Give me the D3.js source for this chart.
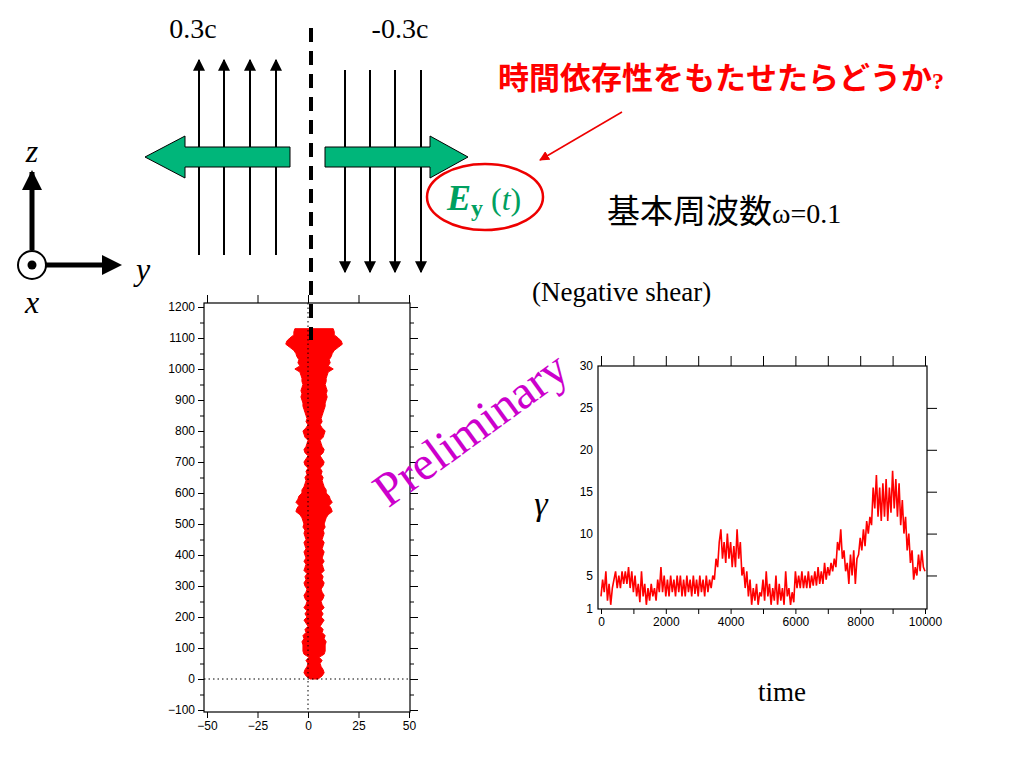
<!DOCTYPE html><html><head><meta charset="utf-8">
<script src="https://cdn.jsdelivr.net/npm/d3@7"></script>
<style>body{margin:0;background:#fff}svg{display:block}</style></head><body>
<svg id="s" width="1024" height="768"></svg>
<script>
// ---- data ----
const profileHeights = d3.range(0, 1140, 10);
const profileHalfWidth = [2,4,5,4.5,3.5,3,4,2.5,5,5.5,5.5,
 5.5,6,5,5.5,4,4.5,3,4,5,3.5,
 4.5,3.5,5,4,3.5,4.5,5,4,3.5,4.5,
 5,4,4.5,3.5,5,4.5,4,5,4,4.5,
 5,4,4.5,5,4,4.5,5,4.5,5.5,5,
 5.5,6,7,9,8.5,7.5,9,8,7.5,6,
 6,5,4.5,4,4.5,3.5,4,3,4.5,5,
 4,3,4.5,5,4,3.5,3,4.5,5,5.5,
 4,3,4,3.5,4,4.5,5,5.5,5.5,6,
 6.5,6,6.5,6,5.5,6,6,6.5,7,9.5,
 7,8,7.5,8.5,9,10,12,14,13.5,12,10,10,9.5];
const profileCenter = 3;
const gammaTime = d3.range(0, 10001, 50);
const gammaValues = [2.5,4.5,3,5.5,2,4,1.5,3.5,4.5,5.5,3.5,5,3.5,5.5,4,5.5,4,6,3.5,5.5,3,
 5,2.5,4,1.8,5.5,2.5,4,1.5,3.5,2,4,2.5,3.5,2,4.5,3,6,3,5,2.5,
 4.5,2.5,5,3,4.5,2.5,5,3,5,2.5,4.5,2.5,5,3,4.5,2.5,5,2.8,4.5,2.5,
 5,3,4.5,2.5,5,3,4.5,3.5,5,4.5,7,6,9,10.5,7,9,6.5,10,7,9,
 6,8.5,6,10.5,7,9,5,6,3.5,5.5,2.5,4.5,1.5,3.5,2,4,1.5,3,2.5,4.5,
 2,5.5,2.5,4,1.5,3.5,2,5,1.5,4,2,3.5,1.5,5.5,2.5,3.5,1.5,3,1.8,5.5,
 3.5,5,3.5,5.5,3.5,5,3.5,5.5,3.5,5,3.8,5.5,3.8,6,4,5.5,4,6.5,4.5,6,
 5,6.5,5.5,7,6,9,8,10.5,7,8,5.5,6.5,4,7.5,5,8,4,7,7.5,9.5,
 8,10.5,8.5,11.5,10,12,11,15.5,13,17,12,15.5,11.5,16,12,16.5,11.5,15.5,12.5,17.5,
 13,16.5,12,16,11,14,10,12,8,10,6.5,8,4.5,6,5,7.5,5.5,8,6,5.5];
const leftXTicks = [-50,-25,0,25,50];
const leftYTicks = d3.range(-100, 1201, 100);
const rightXTicks = [0,2000,4000,6000,8000,10000];
const rightYTicks = [1,5,10,15,20,25,30];

const svg = d3.select("#s");
const serif = "'Liberation Serif','DejaVu Serif',serif";
const sans = "'Liberation Sans',Arial,sans-serif";
const cjk = "'Noto Sans CJK JP',sans-serif";
const fmt = d => d<0 ? "\u2212"+(-d) : String(d);

// ---- left plot ----
const L = svg.append("g");
const lx = d3.scaleLinear().domain([-50,50]).range([207,409]);
const ly = d3.scaleLinear().domain([-100,1200]).range([710,307]);
L.append("rect").attr("x",204).attr("y",303).attr("width",206).attr("height",409).attr("fill","none").attr("stroke","#000").attr("stroke-width",1.2);
const area = d3.area().y(d=>ly(d.h)).x0(d=>lx(profileCenter-d.w)).x1(d=>lx(profileCenter+d.w)).curve(d3.curveLinear);
const prof = profileHeights.map((h,i)=>({h,w:profileHalfWidth[i]}));
L.append("path").datum(prof).attr("d",area).attr("fill","#f00").attr("stroke","#f00").attr("stroke-width",1);
L.append("line").attr("x1",204).attr("x2",410).attr("y1",ly(0)).attr("y2",ly(0)).attr("stroke","#000").attr("stroke-dasharray","1.5,3");
L.append("line").attr("x1",lx(0)).attr("x2",lx(0)).attr("y1",303).attr("y2",712).attr("stroke","#000").attr("stroke-dasharray","1.5,3");
L.append("g").attr("transform","translate(204,0)").call(d3.axisLeft(ly).tickValues(leftYTicks).tickSize(6).tickPadding(3).tickFormat(fmt)).call(g=>g.select(".domain").remove()).selectAll("text").attr("font-family",sans).attr("font-size",12);
L.append("g").attr("transform","translate(204,0)").call(d3.axisLeft(ly).tickValues(d3.range(-50,1200,100)).tickSize(4).tickFormat("")).select(".domain").remove();
L.append("g").attr("transform","translate(410,0)").call(d3.axisRight(ly).tickValues(leftYTicks).tickSize(8).tickFormat("")).select(".domain").remove();
L.append("g").attr("transform","translate(410,0)").call(d3.axisRight(ly).tickValues(d3.range(-50,1200,100)).tickSize(4).tickFormat("")).select(".domain").remove();
L.append("g").attr("transform","translate(0,712)").call(d3.axisBottom(lx).tickValues(leftXTicks).tickSize(6).tickFormat(fmt)).call(g=>g.select(".domain").remove()).selectAll("text").attr("font-family",sans).attr("font-size",12);
L.append("g").attr("transform","translate(0,303)").call(d3.axisTop(lx).tickValues(leftXTicks).tickSize(8).tickFormat("")).select(".domain").remove();

// ---- right plot ----
const R = svg.append("g");
const rx = d3.scaleLinear().domain([0,10000]).range([601,925]);
const ry = d3.scaleLinear().domain([1,30]).range([609,366]);
R.append("rect").attr("x",598).attr("y",366).attr("width",329).attr("height",243).attr("fill","none").attr("stroke","#000").attr("stroke-width",1.2);
R.append("path").datum(gammaTime.map((t,i)=>[t,gammaValues[i]])).attr("d",d3.line().x(d=>rx(d[0])).y(d=>ry(d[1]))).attr("fill","none").attr("stroke","#f00").attr("stroke-width",1.6);
R.append("g").attr("transform","translate(598,0)").call(d3.axisLeft(ry).tickValues(rightYTicks).tickSize(0).tickPadding(5)).call(g=>g.select(".domain").remove()).selectAll("text").attr("font-family",sans).attr("font-size",12);
R.append("g").attr("transform","translate(927,0)").call(d3.axisRight(ry).tickValues([5,10,15,20,25]).tickSize(10).tickFormat("")).select(".domain").remove();
R.append("g").attr("transform","translate(0,609)").call(d3.axisBottom(rx).tickValues(d3.range(0,10001,1000)).tickSize(5).tickFormat(d=>rightXTicks.includes(d)?d:"")).call(g=>g.select(".domain").remove()).selectAll("text").attr("font-family",sans).attr("font-size",12);
R.append("g").attr("transform","translate(0,366)").call(d3.axisTop(rx).tickValues(d3.range(0,10001,1000)).tickSize(10).tickFormat("")).select(".domain").remove();

// ---- slide decorations ----
const defs = svg.append("defs");
defs.append("marker").attr("id","ah").attr("viewBox","0 0 10 10").attr("refX",9).attr("refY",5).attr("markerWidth",12).attr("markerHeight",12).attr("markerUnits","userSpaceOnUse").attr("orient","auto").append("path").attr("d","M0,0L10,5L0,10z").attr("fill","#000");
defs.append("marker").attr("id","ar").attr("viewBox","0 0 10 10").attr("refX",9).attr("refY",5).attr("markerWidth",10).attr("markerHeight",10).attr("markerUnits","userSpaceOnUse").attr("orient","auto").append("path").attr("d","M0,0L10,5L0,10z").attr("fill","#e00");
[199,224,250,276].forEach(x=>svg.append("line").attr("x1",x).attr("x2",x).attr("y1",255).attr("y2",60).attr("stroke","#000").attr("stroke-width",2).attr("marker-end","url(#ah)"));
[345,370,395,421].forEach(x=>svg.append("line").attr("x1",x).attr("x2",x).attr("y1",70).attr("y2",272).attr("stroke","#000").attr("stroke-width",2).attr("marker-end","url(#ah)"));
svg.append("path").attr("d","M290,147L185,147L185,136L145,157L185,178L185,167L290,167Z").attr("fill","#00b67a").attr("stroke","#000").attr("stroke-width",1);
svg.append("path").attr("d","M325,147L430,147L430,136L468,157L430,178L430,167L325,167Z").attr("fill","#00b67a").attr("stroke","#000").attr("stroke-width",1);
svg.append("line").attr("x1",311).attr("x2",311).attr("y1",28).attr("y2",340).attr("stroke","#000").attr("stroke-width",4).attr("stroke-dasharray","14,9");
svg.append("text").attr("x",193).attr("y",38).attr("text-anchor","middle").attr("font-family",serif).attr("font-size",28).text("0.3c");
svg.append("text").attr("x",400).attr("y",38).attr("text-anchor","middle").attr("font-family",serif).attr("font-size",28).text("-0.3c");
const rt = svg.append("text").attr("x",498).attr("y",89).attr("font-weight","bold").attr("fill","#f00");
rt.append("tspan").attr("font-family",cjk).attr("font-size",31).text("時間依存性をもたせたらどうか");
rt.append("tspan").attr("font-family",serif).attr("font-size",24).text("?");
svg.append("line").attr("x1",622).attr("y1",112).attr("x2",540).attr("y2",160).attr("stroke","#e00").attr("stroke-width",1.5).attr("marker-end","url(#ar)");
svg.append("ellipse").attr("cx",485).attr("cy",197).attr("rx",58).attr("ry",33).attr("fill","none").attr("stroke","#e00").attr("stroke-width",2.5);
const et = svg.append("text").attr("x",447).attr("y",210).attr("font-family",serif).attr("fill","#00a060").attr("font-size",36);
et.append("tspan").attr("font-style","italic").attr("font-weight","bold").text("E");
et.append("tspan").attr("font-weight","bold").attr("font-size",24).attr("dy",6).text("y");
et.append("tspan").attr("dy",-6).attr("font-size",32).text(" (");
et.append("tspan").attr("font-style","italic").attr("font-size",32).text("t");
et.append("tspan").attr("font-size",32).text(")");
const bt = svg.append("text").attr("x",607).attr("y",223);
bt.append("tspan").attr("font-family",cjk).attr("font-size",33).text("基本周波数");
bt.append("tspan").attr("font-family",serif).attr("font-size",28).text("ω=0.1");
svg.append("text").attr("x",532).attr("y",301).attr("font-family",serif).attr("font-size",27).text("(Negative shear)");
svg.append("line").attr("x1",32).attr("x2",32).attr("y1",250).attr("y2",172).attr("stroke","#000").attr("stroke-width",5);
svg.append("path").attr("d","M22,190L32,170L42,190Z");
svg.append("line").attr("x1",46).attr("x2",108).attr("y1",265).attr("y2",265).attr("stroke","#000").attr("stroke-width",5);
svg.append("path").attr("d","M102,255L122,265L102,275Z");
svg.append("circle").attr("cx",32).attr("cy",265).attr("r",14).attr("fill","#fff").attr("stroke","#000").attr("stroke-width",2);
svg.append("circle").attr("cx",32).attr("cy",265).attr("r",4.5);
svg.append("text").attr("x",32).attr("y",162).attr("text-anchor","middle").attr("font-family",serif).attr("font-style","italic").attr("font-size",32).text("z");
svg.append("text").attr("x",143).attr("y",280).attr("text-anchor","middle").attr("font-family",serif).attr("font-style","italic").attr("font-size",32).text("y");
svg.append("text").attr("x",32).attr("y",313).attr("text-anchor","middle").attr("font-family",serif).attr("font-style","italic").attr("font-size",32).text("x");
svg.append("text").attr("transform","translate(480,442) rotate(-36)").attr("text-anchor","middle").attr("font-family",serif).attr("font-size",48).attr("fill","#cc00cc").text("Preliminary");
svg.append("text").attr("x",541).attr("y",515).attr("text-anchor","middle").attr("font-family",serif).attr("font-style","italic").attr("font-size",34).text("γ");
svg.append("text").attr("x",782).attr("y",701).attr("text-anchor","middle").attr("font-family",serif).attr("font-size",27).text("time");
</script></body></html>
